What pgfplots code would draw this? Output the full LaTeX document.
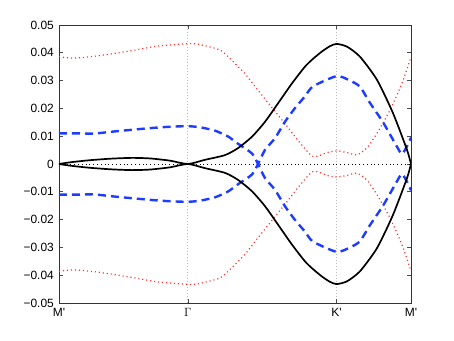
\documentclass[border=0pt]{standalone}
\usepackage{fontspec}
\setmainfont{Liberation Sans}
\usepackage{pgfplots}
\usepackage{pgfplotstable}
\pgfplotsset{compat=1.18}

\definecolor{bandblue}{RGB}{30,60,255}
\definecolor{bandred}{RGB}{255,45,45}

% k-path length: M' (0) -> Gamma (0.866) -> K' (1.866) -> M' (2.366)
\pgfplotstableread{
x      up       dn
0      0        0
0.074  0.0006  -0.0006
0.195  0.0013  -0.0013
0.343  0.0019  -0.0019
0.491  0.0022  -0.0022
0.612  0.0020  -0.0020
0.746  0.0012  -0.0012
0.866  0        0
0.981  0.0015  -0.0015
1.116  0.0032  -0.0032
1.203  0.0057  -0.0057
1.297  0.0098  -0.0098
1.385  0.0152  -0.0152
1.472  0.0218  -0.0218
1.566  0.0290  -0.0290
1.653  0.0350  -0.0350
1.707  0.0378  -0.0378
1.768  0.0405  -0.0405
1.822  0.0424  -0.0424
1.866  0.0432  -0.0432
1.936  0.0422  -0.0422
2.023  0.0386  -0.0386
2.137  0.0303  -0.0303
2.245  0.0183  -0.0183
2.339  0.0051  -0.0051
2.366  0        0
}\blackband

\pgfplotstableread{
x      up       dn
0      0.0110  -0.0110
0.161  0.0110  -0.0110
0.229  0.0109  -0.0109
0.390  0.0118  -0.0118
0.612  0.0129  -0.0129
0.746  0.0134  -0.0134
0.866  0.0136  -0.0136
0.948  0.0132  -0.0132
1.048  0.0120  -0.0120
1.136  0.0099  -0.0099
1.203  0.0073  -0.0073
1.297  0.0038  -0.0038
1.338  0        0
1.385 -0.0051   0.0051
1.452 -0.0093   0.0093
1.519 -0.0152   0.0152
1.586 -0.0201   0.0201
1.653 -0.0243   0.0243
1.707 -0.0279   0.0279
1.866 -0.0316   0.0316
1.956 -0.0300   0.0300
2.023 -0.0278   0.0278
2.090 -0.0220   0.0220
2.178 -0.0150   0.0150
2.272 -0.0062   0.0062
2.305 -0.0036   0.0036
2.339 -0.0064   0.0064
2.366 -0.0095   0.0095
}\blueband

\pgfplotstableread{
x      up       dn
0      0.0386  -0.0386
0.040  0.0383  -0.0383
0.108  0.0381  -0.0381
0.195  0.0385  -0.0385
0.276  0.0390  -0.0390
0.423  0.0402  -0.0402
0.544  0.0413  -0.0413
0.645  0.0423  -0.0423
0.746  0.0428  -0.0428
0.866  0.0433  -0.0433
0.934  0.0431  -0.0431
1.082  0.0410  -0.0410
1.161  0.0373  -0.0373
1.250  0.0325  -0.0325
1.338  0.0265  -0.0265
1.428  0.0205  -0.0205
1.519  0.0145  -0.0145
1.606  0.0085  -0.0085
1.707  0.0027  -0.0027
1.801  0.0041  -0.0041
1.866  0.0047  -0.0047
1.936  0.0041  -0.0041
2.003  0.0033  -0.0033
2.070  0.0058  -0.0058
2.137  0.0110  -0.0110
2.225  0.0194  -0.0194
2.305  0.0290  -0.0290
2.359  0.0374  -0.0374
2.366  0.0385  -0.0385
}\redband

\begin{document}
\fontsize{12}{14}\selectfont
\begin{tikzpicture}
\begin{axis}[
    name=ax,
    scale only axis,
    width=352bp, height=278bp,
    xmin=0, xmax=2.366,
    ymin=-0.05, ymax=0.05,
    scaled y ticks=false,
    xtick={0,0.866,1.866,2.366},
    xticklabels={M\textquotesingle, $\Gamma$, K\textquotesingle, M\textquotesingle},
    ytick={-0.05,-0.04,-0.03,-0.02,-0.01,0,0.01,0.02,0.03,0.04,0.05},
    yticklabels={−0.05,−0.04,−0.03,−0.02,−0.01,0,0.01,0.02,0.03,0.04,0.05},
    extra y ticks={0},
    extra y tick labels={},
    extra y tick style={grid=major, major grid style={black, line width=0.6bp, dash pattern=on 0.8bp off 3bp}, major tick length=0pt},
    xmajorgrids=true,
    grid style={gray!55, line width=0.7bp, dash pattern=on 0.8bp off 2.2bp},
    tick pos=both,
    tick align=inside,
    major tick length=4bp,
    tick style={black!70, line width=0.6bp},
    axis line style={black!80, line width=0.7bp},
    xticklabel style={yshift=-1bp},
    yticklabel style={xshift=-1bp},
]
\addplot[bandred, line width=1.2bp, dash pattern=on 1.1bp off 2.9bp, smooth, tension=0.4] table[x=x, y=up] {\redband};
\addplot[bandred, line width=1.2bp, dash pattern=on 1.1bp off 2.9bp, smooth, tension=0.4] table[x=x, y=dn] {\redband};
\addplot[bandblue, line width=2.4bp, dash pattern=on 8bp off 5bp, smooth, tension=0.4] table[x=x, y=up] {\blueband};
\addplot[bandblue, line width=2.4bp, dash pattern=on 8bp off 5bp, smooth, tension=0.4] table[x=x, y=dn] {\blueband};
\addplot[black, line width=1.7bp, smooth, tension=0.4] table[x=x, y=up] {\blackband};
\addplot[black, line width=1.7bp, smooth, tension=0.4] table[x=x, y=dn] {\blackband};
\end{axis}
\path ([shift={(-59bp,-38bp)}]ax.south west) rectangle ([shift={(43bp,25bp)}]ax.north east);
\end{tikzpicture}
\end{document}
